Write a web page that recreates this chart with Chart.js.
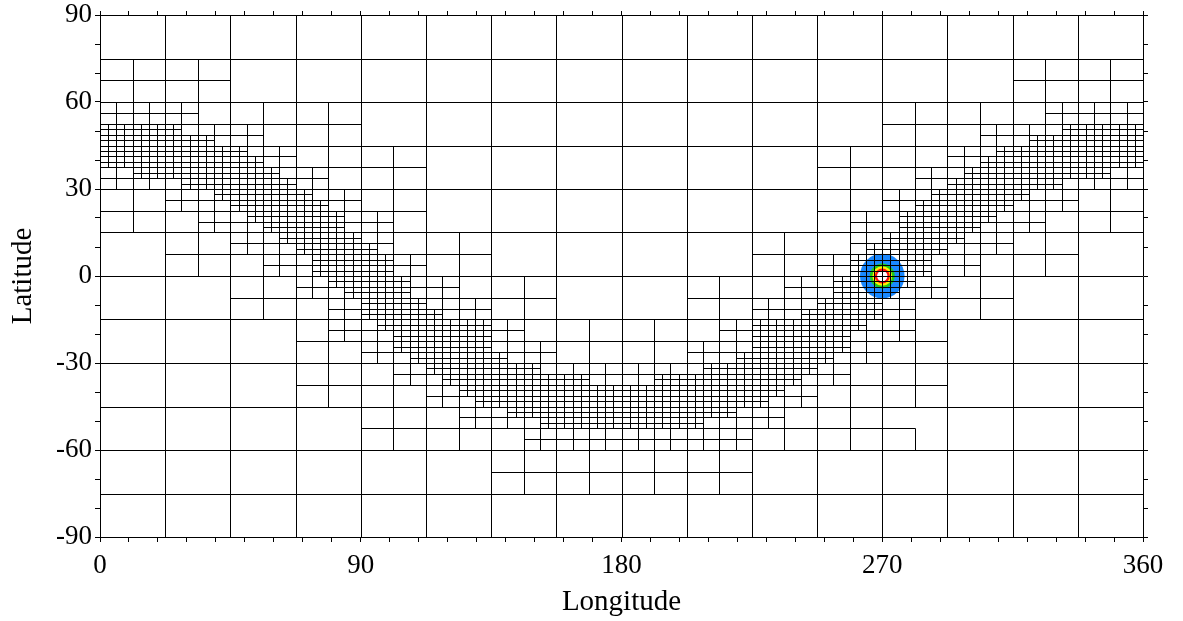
<!DOCTYPE html>
<html>
<head>
<meta charset="utf-8">
<script src="https://cdn.jsdelivr.net/npm/chart.js@4.4.1/dist/chart.umd.min.js"></script>
<style>
html,body{margin:0;padding:0;background:#ffffff;}
#box{position:relative;width:1183px;height:621px;}
</style>
</head>
<body>
<div id="box"><canvas id="chart" width="1183" height="621"></canvas></div>
<script>
// Tick labels
const lonTickLabels = [0, 90, 180, 270, 360];
const latTickLabels = [-90, -60, -30, 0, 30, 60, 90];

// Adaptive mesh: one character per 5.625° x 3.75° cell,
// row 0 = 90°N..86.25°N, column 0 = 0°..5.625°E.
// 0 = part of a 22.5°x15° leaf, 1 = part of an 11.25°x7.5° leaf,
// 2 = a 5.625°x3.75° leaf, 3 = split into four 2.8125°x1.875° leaves.
const meshLevelRows = [
  "0000000000000000000000000000000000000000000000000000000000000000",
  "0000000000000000000000000000000000000000000000000000000000000000",
  "0000000000000000000000000000000000000000000000000000000000000000",
  "0000000000000000000000000000000000000000000000000000000000000000",
  "1111111100000000000000000000000000000000000000000000000011111111",
  "1111111100000000000000000000000000000000000000000000000011111111",
  "1111111100000000000000000000000000000000000000000000000011111111",
  "1111111100000000000000000000000000000000000000000000000011111111",
  "2222221111111111000000000000000000000000000000001111111111222222",
  "2222221111111111000000000000000000000000000000001111111111222222",
  "3333322222111111000000000000000000000000000000001111112222233333",
  "3333333222111111000000000000000000000000000000001111112223333333",
  "3333333332221111111100000000000000000000000011111111222333333333",
  "3333333333221111111100000000000000000000000011111111223333333333",
  "2233333333322211111100000000000000000000000011111122233333333322",
  "2222233333332211111100000000000000000000000011111122333333322222",
  "1111222333333222111100000000000000000000000011112223333332221111",
  "1111222233333322111100000000000000000000000011112233333322221111",
  "1111112223333332221100000000000000000000000011222333333222111111",
  "1111112222333332221100000000000000000000000011222333332222111111",
  "0000111122233333221111110000000000000000111111223333322211110000",
  "0000111122223333321111110000000000000000111111233333222211110000",
  "0000111111222333332211110000000000000000111122333332221111110000",
  "0000111111222333332211110000000000000000111122333332221111110000",
  "0000000011112233333222111111000000001111112223333322111100000000",
  "0000000011112223333222111111000000001111112223333222111100000000",
  "0000000011111122333322221111000000001111222233332211111100000000",
  "0000000011111122333332221111000000001111222333332211111100000000",
  "0000000000001122233333332211111111111122333333322211000000000000",
  "0000000000001122223333332211111111111122333333222211000000000000",
  "0000000000001111223333332222111111112222333333221111000000000000",
  "0000000000001111222333333222111111112223333332221111000000000000",
  "0000000000001111112233333332222222222333333322111111000000000000",
  "0000000000001111112223333333332222333333333222111111000000000000",
  "0000000000001111111122333333333333333333332211111111000000000000",
  "0000000000001111111122233333333333333333322211111111000000000000",
  "0000000000000000111111222333333333333332221111110000000000000000",
  "0000000000000000111111222223333333333222221111110000000000000000",
  "0000000000000000111111111122222222222222111111111100000000000000",
  "0000000000000000111111111122222222222222111111111100000000000000",
  "0000000000000000000000001111111111111111000000000000000000000000",
  "0000000000000000000000001111111111111111000000000000000000000000",
  "0000000000000000000000001111111111111111000000000000000000000000",
  "0000000000000000000000001111111111111111000000000000000000000000",
  "0000000000000000000000000000000000000000000000000000000000000000",
  "0000000000000000000000000000000000000000000000000000000000000000",
  "0000000000000000000000000000000000000000000000000000000000000000",
  "0000000000000000000000000000000000000000000000000000000000000000"
];

// Coloured tracer blob
const blobCenterLon = 270;
const blobCenterLat = 0;
const blobRadiiDeg = [7.7, 4.3, 3.4, 2.6, 1.8];
const blobColors = ['#1a88ff', '#1ecb1e', '#ffee00', '#ff1010', '#ffffff'];

const FONT = "'Liberation Serif', 'Times New Roman', serif";

const meshPlugin = {
  id: 'meshPlugin',
  beforeDatasetsDraw(chart) {
    const {ctx, chartArea, scales} = chart;
    const xs = scales.x, ys = scales.y;
    ctx.save();
    ctx.beginPath();
    ctx.rect(chartArea.left, chartArea.top, chartArea.right - chartArea.left, chartArea.bottom - chartArea.top);
    ctx.clip();

    // blob
    const cx = xs.getPixelForValue(blobCenterLon);
    const cy = ys.getPixelForValue(blobCenterLat);
    for (let i = 0; i < blobRadiiDeg.length; i++) {
      const rx = Math.abs(xs.getPixelForValue(blobCenterLon + blobRadiiDeg[i]) - cx);
      const ry = Math.abs(ys.getPixelForValue(blobCenterLat + blobRadiiDeg[i]) - cy);
      ctx.beginPath();
      ctx.ellipse(cx, cy, rx, ry, 0, 0, Math.PI * 2);
      ctx.fillStyle = blobColors[i];
      ctx.fill();
    }

    // mesh
    const nRows = meshLevelRows.length;
    const nCols = meshLevelRows[0].length;
    const dLon = 360 / nCols;
    const dLat = 180 / nRows;
    const px = v => Math.round(xs.getPixelForValue(v)) + 0.5;
    const py = v => Math.round(ys.getPixelForValue(v)) + 0.5;
    const addCell = (lon0, latTop, w, h) => {
      const x0 = px(lon0), x1 = px(lon0 + w);
      const y0 = py(latTop), y1 = py(latTop - h);
      ctx.rect(x0, y0, x1 - x0, y1 - y0);
    };
    ctx.beginPath();
    for (let r = 0; r < nRows; r++) {
      for (let c = 0; c < nCols; c++) {
        const L = +meshLevelRows[r][c];
        const lon0 = c * dLon;
        const latTop = 90 - r * dLat;
        if (L === 0) {
          if (r % 4 === 0 && c % 4 === 0) addCell(lon0, latTop, 4 * dLon, 4 * dLat);
        } else if (L === 1) {
          if (r % 2 === 0 && c % 2 === 0) addCell(lon0, latTop, 2 * dLon, 2 * dLat);
        } else if (L === 2) {
          addCell(lon0, latTop, dLon, dLat);
        } else {
          for (let i = 0; i < 2; i++) for (let j = 0; j < 2; j++)
            addCell(lon0 + i * dLon / 2, latTop - j * dLat / 2, dLon / 2, dLat / 2);
        }
      }
    }
    ctx.strokeStyle = '#000000';
    ctx.lineWidth = 1;
    ctx.stroke();
    ctx.restore();
  }
};

const tickFont = { family: FONT, size: 27 };
const titleFont = { family: FONT, size: 29 };

const fixH = h => s => { s.height = h; s.paddingLeft = 0; s.paddingRight = 0; };
const fixW = w => s => { s.width = w; s.paddingTop = 0; s.paddingBottom = 0; };

new Chart(document.getElementById('chart'), {
  type: 'scatter',
  data: { datasets: [{ data: [], pointRadius: 0 }] },
  plugins: [meshPlugin],
  options: {
    responsive: false,
    devicePixelRatio: 1,
    animation: false,
    events: [],
    layout: { padding: 0 },
    plugins: { legend: { display: false }, tooltip: { enabled: false } },
    scales: {
      x: {
        type: 'linear', position: 'bottom', min: 0, max: 360,
        afterFit: fixH(84),
        ticks: {
          stepSize: 10, autoSkip: false, maxRotation: 0, color: '#000', font: tickFont, padding: 8,
          callback: v => lonTickLabels.includes(v) ? String(v) : ''
        },
        grid: { drawOnChartArea: false, drawTicks: true, tickLength: 5, color: '#000', lineWidth: 1 },
        border: { display: true, color: '#000', width: 1 },
        title: { display: true, text: 'Longitude', color: '#000', font: titleFont, padding: { top: 0, bottom: 1 } }
      },
      x2: {
        type: 'linear', position: 'top', min: 0, max: 360,
        afterFit: fixH(15),
        ticks: { stepSize: 10, autoSkip: false, display: false },
        grid: { drawOnChartArea: false, drawTicks: true, tickLength: 4, color: '#000', lineWidth: 1 },
        border: { display: true, color: '#000', width: 1 }
      },
      y: {
        type: 'linear', position: 'left', min: -90, max: 90,
        afterFit: fixW(100),
        ticks: {
          stepSize: 10, autoSkip: false, color: '#000', font: tickFont, padding: 3,
          callback: v => latTickLabels.includes(v) ? String(v) : ''
        },
        grid: { drawOnChartArea: false, drawTicks: true, tickLength: 5, color: '#000', lineWidth: 1 },
        border: { display: true, color: '#000', width: 1 },
        title: { display: true, text: 'Latitude', color: '#000', font: titleFont, padding: { top: 6, bottom: 0 } }
      },
      y2: {
        type: 'linear', position: 'right', min: -90, max: 90,
        afterFit: fixW(40),
        ticks: { stepSize: 10, autoSkip: false, display: false },
        grid: { drawOnChartArea: false, drawTicks: true, tickLength: 5, color: '#000', lineWidth: 1 },
        border: { display: true, color: '#000', width: 1 }
      }
    }
  }
});
</script>
</body>
</html>
